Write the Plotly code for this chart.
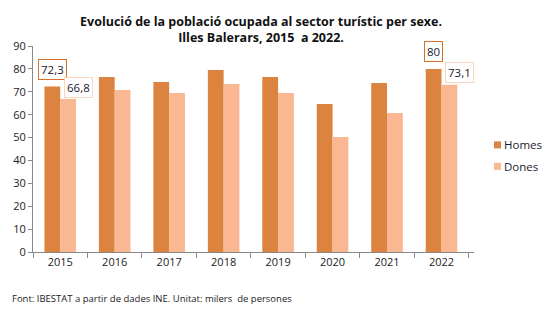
import plotly.graph_objects as go

years = ["2015", "2016", "2017", "2018", "2019", "2020", "2021", "2022"]
homes = [72.3, 76.5, 74.3, 79.5, 76.5, 64.7, 73.8, 80.0]
dones = [66.8, 70.8, 69.5, 73.4, 69.5, 50.2, 60.7, 73.1]
y_ticks = [0, 10, 20, 30, 40, 50, 60, 70, 80, 90]
series_names = ["Homes", "Dones"]

labelled = ["2015", "2022"]

c_homes = "#DC843F"
c_dones = "#F9B792"

fig = go.Figure()
fig.add_trace(go.Bar(x=years, y=homes, name=series_names[0], marker_color=c_homes, marker_line_width=0))
fig.add_trace(go.Bar(x=years, y=dones, name=series_names[1], marker_color=c_dones, marker_line_width=0))

def fmt(v):
    s = ("%.1f" % v).rstrip("0").rstrip(".")
    return s.replace(".", ",")

for yr in labelled:
    i = years.index(yr)
    fig.add_annotation(x=i, y=homes[i], text=fmt(homes[i]), showarrow=False,
                       xshift=-8, yshift=17, bordercolor="#D9702B", borderwidth=1,
                       borderpad=2, bgcolor="white", font=dict(size=11.5, color="#1a1a2e"))
    fig.add_annotation(x=i, y=dones[i], text=fmt(dones[i]), showarrow=False,
                       xshift=18, yshift=12, bordercolor="#FBD6BD", borderwidth=1,
                       borderpad=2, bgcolor="white", font=dict(size=11.5, color="#1a1a2e"))

# legend drawn as small squares + labels (custom, to match compact legend)
for k, (nm, col) in enumerate(zip(series_names, [c_homes, c_dones])):
    cy = 0.52 - k * 0.104
    fig.add_shape(type="rect", xref="paper", yref="paper",
                  x0=(494 - 33) / 441, x1=(501 - 33) / 441,
                  y0=cy - 3.5 / 206, y1=cy + 3.5 / 206,
                  fillcolor=col, line_width=0)
    fig.add_annotation(xref="paper", yref="paper", x=(502 - 33) / 441, y=cy,
                       xanchor="left", yanchor="middle", text=nm, showarrow=False,
                       font=dict(size=11.5, color="#1a1a2e"))

fig.add_annotation(xref="paper", yref="paper", x=-0.053, y=-0.226, xanchor="left", yanchor="middle",
                   text="Font: IBESTAT a partir de dades INE. Unitat: milers  de persones",
                   showarrow=False, font=dict(size=9.5, color="#222"))

fig.update_layout(
    width=553, height=313,
    margin=dict(l=33, r=79, t=46, b=61, autoexpand=False),
    paper_bgcolor="white", plot_bgcolor="white",
    font=dict(family="Open Sans, DejaVu Sans, sans-serif", color="#222", size=11),
    title=dict(text="<b>Evolució de la població ocupada al sector turístic per sexe.<br>Illes Balerars, 2015  a 2022.</b>",
               x=0.472, xanchor="center", y=0.918, yanchor="top",
               font=dict(size=12.5, color="#111")),
    barmode="group", bargap=0.42, bargroupgap=0,
    showlegend=False,
    xaxis=dict(type="category", showline=True, linecolor="#888", linewidth=1,
               ticks="outside", tickson="boundaries", ticklen=5, tickcolor="#888",
               showgrid=False, tickfont=dict(size=11)),
    yaxis=dict(range=[0, 90], tickvals=y_ticks, showline=True, linecolor="#888", linewidth=1,
               ticks="outside", ticklen=4, tickcolor="#888", showgrid=False, zeroline=False,
               tickfont=dict(size=11)),
)

fig.write_html("out.html")
